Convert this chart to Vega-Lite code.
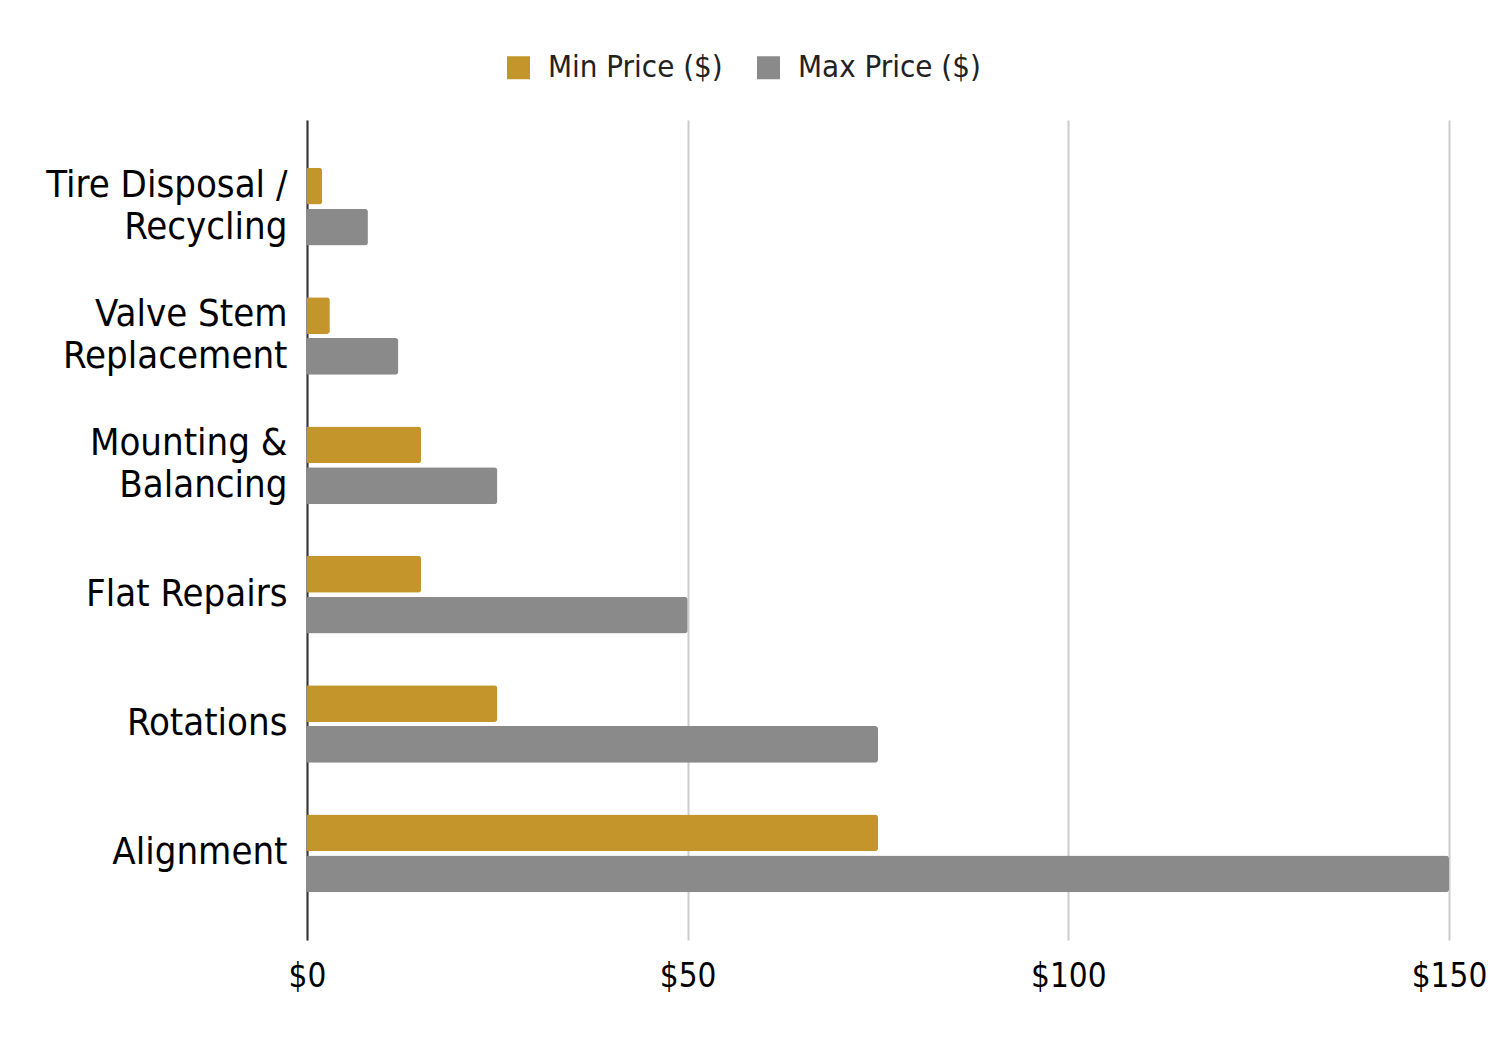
{
  "$schema": "https://vega.github.io/schema/vega-lite/v6.json",
  "width": 1142,
  "height": 820,
  "autosize": {"type": "none"},
  "padding": {"left": 307, "top": 120, "right": 53, "bottom": 106},
  "background": "white",
  "data": {
    "values": [
      {"service": "Tire Disposal /|Recycling", "series": "Min Price ($)", "price": 2},
      {"service": "Tire Disposal /|Recycling", "series": "Max Price ($)", "price": 8},
      {"service": "Valve Stem|Replacement", "series": "Min Price ($)", "price": 3},
      {"service": "Valve Stem|Replacement", "series": "Max Price ($)", "price": 12},
      {"service": "Mounting &|Balancing", "series": "Min Price ($)", "price": 15},
      {"service": "Mounting &|Balancing", "series": "Max Price ($)", "price": 25},
      {"service": "Flat Repairs", "series": "Min Price ($)", "price": 15},
      {"service": "Flat Repairs", "series": "Max Price ($)", "price": 50},
      {"service": "Rotations", "series": "Min Price ($)", "price": 25},
      {"service": "Rotations", "series": "Max Price ($)", "price": 75},
      {"service": "Alignment", "series": "Min Price ($)", "price": 75},
      {"service": "Alignment", "series": "Max Price ($)", "price": 150}
    ]
  },
  "mark": {"type": "bar", "cornerRadiusEnd": 3},
  "encoding": {
    "y": {
      "field": "service",
      "type": "nominal",
      "sort": null,
      "scale": {"paddingInner": 0.4, "paddingOuter": 0.37},
      "axis": {
        "title": null,
        "ticks": false,
        "domain": true,
        "domainColor": "#333333",
        "domainWidth": 2,
        "labelExpr": "split(datum.value, '|')",
        "labelFont": "DejaVu Sans Condensed",
        "labelFontSize": 38,
        "labelColor": "#000000",
        "labelLineHeight": 42,
        "labelPadding": 20,
        "labelBaseline": "middle",
        "labelOffset": {"condition": {"test": "indexof(datum.value, '|') >= 0", "value": -21}, "value": 0},
        "labelLimit": 400,
        "grid": false
      }
    },
    "yOffset": {
      "field": "series",
      "type": "nominal",
      "sort": ["Min Price ($)", "Max Price ($)"],
      "scale": {"paddingInner": 0.1}
    },
    "x": {
      "field": "price",
      "type": "quantitative",
      "scale": {"domain": [0, 150]},
      "axis": {
        "title": null,
        "values": [0, 50, 100, 150],
        "labelExpr": "'$' + datum.value",
        "labelFont": "DejaVu Sans Condensed",
        "labelFontSize": 33,
        "labelColor": "#000000",
        "labelPadding": 20,
        "labelFlush": false,
        "ticks": false,
        "domain": false,
        "grid": true,
        "gridColor": "#cccccc",
        "gridWidth": 2
      }
    },
    "color": {
      "field": "series",
      "type": "nominal",
      "sort": ["Min Price ($)", "Max Price ($)"],
      "scale": {"domain": ["Min Price ($)", "Max Price ($)"], "range": ["#C4952B", "#8A8A8B"]},
      "legend": {
        "title": null,
        "orient": "none",
        "direction": "horizontal",
        "legendX": 196,
        "legendY": -68,
        "symbolType": "square",
        "symbolSize": 529,
        "symbolStrokeWidth": 0,
        "labelFont": "DejaVu Sans Condensed",
        "labelFontSize": 31,
        "labelColor": "#222222",
        "labelOffset": 14,
        "columnPadding": 30,
        "labelLimit": 400
      }
    }
  },
  "config": {"view": {"stroke": null}}
}
